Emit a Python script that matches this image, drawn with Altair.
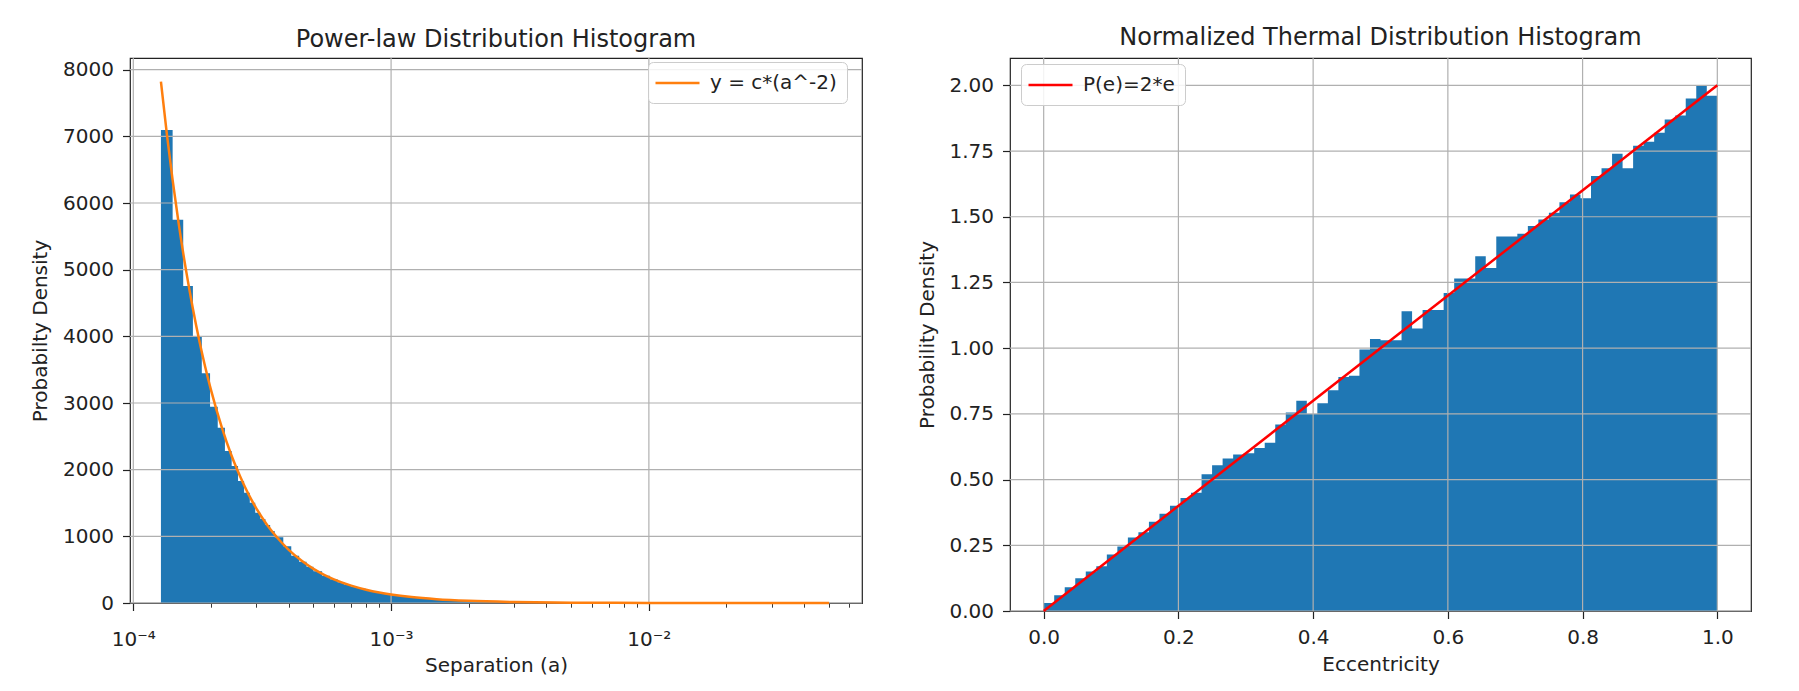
import altair as alt
import numpy as np
import pandas as pd

# ---------------- Left panel: power-law histogram ----------------
pl_edges = [1.280e-4, 1.421e-4, 1.562e-4, 1.703e-4, 1.844e-4, 1.985e-4, 2.126e-4, 2.267e-4,
            2.408e-4, 2.549e-4, 2.690e-4, 2.831e-4, 2.972e-4, 3.113e-4, 3.254e-4, 3.395e-4,
            3.536e-4, 3.818e-4, 4.1e-4, 4.4e-4, 4.7e-4, 5.0e-4, 5.4e-4, 5.8e-4, 6.2e-4, 6.6e-4,
            7.0e-4, 7.5e-4, 8.0e-4, 8.5e-4, 9.0e-4, 9.5e-4, 1.0e-3, 1.1e-3, 1.2e-3, 1.3e-3,
            1.4e-3, 1.5e-3, 1.7e-3, 1.9e-3, 2.1e-3, 2.4e-3, 2.7e-3, 3.0e-3, 3.5e-3, 4.0e-3,
            5.0e-3, 6.0e-3, 8.0e-3, 1.0e-2, 1.5e-2, 2.0e-2, 3.0e-2, 5.0e-2]
pl_heights = [7095, 5750, 4755, 4005, 3445, 2945, 2630, 2280,
              2055, 1830, 1655, 1505, 1355, 1260, 1170, 1080,
              985, 850, 710, 620, 545, 475, 410, 355, 310, 270,
              240, 212, 185, 166, 150, 134, 115, 96, 82, 70,
              61, 50, 40, 32, 25, 19.5, 15.8, 12.2, 9.1, 6.4,
              4.3, 2.7, 1.6, 0.85, 0.43, 0.21, 0.09]

pl_curve_a = [1.28e-4, 1.35e-4, 1.42e-4, 1.5e-4, 1.6e-4, 1.7e-4, 1.8e-4, 1.9e-4, 2.0e-4,
              2.2e-4, 2.4e-4, 2.6e-4, 2.8e-4, 3.0e-4, 3.3e-4, 3.6e-4, 4.0e-4, 4.5e-4,
              5.0e-4, 5.5e-4, 6.0e-4, 7.0e-4, 8.0e-4, 9.0e-4, 1.0e-3, 1.2e-3, 1.5e-3,
              2.0e-3, 3.0e-3, 5.0e-3, 1.0e-2, 2.0e-2, 5.0e-2]
pl_curve_y = [7820, 7030, 6350, 5690, 5000, 4430, 3950, 3545, 3200,
              2645, 2220, 1895, 1630, 1420, 1175, 990, 800, 632,
              512, 423, 355, 261, 200, 158, 128, 89, 57,
              32, 14, 5, 1.3, 0.3, 0.05]

pl_x_major = [1e-4, 1e-3, 1e-2]
pl_x_labels = ["10\u207b\u2074", "10\u207b\u00b3", "10\u207b\u00b2"]
pl_x_minor = [2e-4, 3e-4, 4e-4, 5e-4, 6e-4, 7e-4, 8e-4, 9e-4,
              2e-3, 3e-3, 4e-3, 5e-3, 6e-3, 7e-3, 8e-3, 9e-3,
              2e-2, 3e-2, 4e-2, 5e-2, 6e-2]
pl_y_ticks = [0, 1000, 2000, 3000, 4000, 5000, 6000, 7000, 8000]
pl_x_domain = [9.71e-5, 0.0671]
pl_y_domain = [0, 8175]

# ---------------- Right panel: thermal eccentricity histogram ----------------
th_heights = [0.03, 0.06, 0.09, 0.125, 0.15, 0.17, 0.215, 0.245, 0.28, 0.30,
              0.34, 0.37, 0.40, 0.43, 0.45, 0.52, 0.555, 0.58, 0.595, 0.60,
              0.62, 0.64, 0.71, 0.755, 0.80, 0.75, 0.79, 0.84, 0.89, 0.895,
              0.995, 1.035, 1.03, 1.03, 1.14, 1.075, 1.145, 1.145, 1.21, 1.265,
              1.265, 1.35, 1.305, 1.425, 1.425, 1.435, 1.465, 1.49, 1.515, 1.555,
              1.585, 1.57, 1.655, 1.685, 1.74, 1.685, 1.77, 1.785, 1.82, 1.87,
              1.885, 1.95, 2.00, 1.96]
th_range = [0.0, 1.0]
th_line_e = [0.0, 1.0]
th_line_p = [0.0, 2.0]
th_x_ticks = [0.0, 0.2, 0.4, 0.6, 0.8, 1.0]
th_y_ticks = [0.0, 0.25, 0.5, 0.75, 1.0, 1.25, 1.5, 1.75, 2.0]
th_x_domain = [-0.05, 1.05]
th_y_domain = [0, 2.104]

BLUE = "#1f77b4"
ORANGE = "#ff7f0e"
RED = "#ff0000"
GRID = "#b0b0b0"
INK = "#222222"
FONT = "DejaVu Sans"


def step_frame(edges, heights):
    xs = list(edges)
    ys = list(heights) + [heights[-1]]
    return pd.DataFrame({"x": xs, "y": ys})


def legend(x, y):
    # a 44px-long line sample in a 20px-high entry
    return alt.Legend(title=None, orient="none", legendX=x, legendY=y,
                      symbolType="M-2.2,0L2.2,0", symbolSize=400, symbolStrokeWidth=2.4,
                      symbolOffset=8.5, labelOffset=21,
                      labelFontSize=20, labelFont=FONT, labelColor=INK,
                      padding=9.5, fillColor="rgba(255,255,255,0.85)", strokeColor="#cccccc",
                      cornerRadius=5)


# ---------- left ----------
assert len(pl_edges) == len(pl_heights) + 1
pl_hist = step_frame(pl_edges, pl_heights)
xs_l = alt.Scale(type="log", domain=pl_x_domain, nice=False)
ys_l = alt.Scale(domain=pl_y_domain, nice=False, zero=True)

major_test = " || ".join(f"datum.value == {v!r}" for v in pl_x_major)
label_expr = "".join(f"datum.value == {v!r} ? '{l}' : " for v, l in zip(pl_x_major, pl_x_labels)) + "''"

ax_lx = alt.Axis(
    values=pl_x_major + pl_x_minor, labelExpr=label_expr, title="Separation (a)",
    tickSize={"condition": {"test": major_test, "value": 7.5}, "value": 4.2},
    tickWidth={"condition": {"test": major_test, "value": 1.2}, "value": 0.9},
    labelPadding=19, titlePadding=6, labelOverlap=False, labelFlush=False)
ax_ly = alt.Axis(values=pl_y_ticks, format="d", title="Probabilty Density",
                 labelPadding=9, titlePadding=12)

left_area = alt.Chart(pl_hist).mark_area(color=BLUE, interpolate="step-after", opacity=1).encode(
    x=alt.X("x:Q", scale=xs_l, axis=ax_lx),
    y=alt.Y("y:Q", scale=ys_l, axis=ax_ly),
)
left_gy = alt.Chart(pd.DataFrame({"y": pl_y_ticks})).mark_rule(color=GRID, strokeWidth=1.2).encode(
    y=alt.Y("y:Q", scale=ys_l, axis=ax_ly))
left_gx = alt.Chart(pd.DataFrame({"x": pl_x_major})).mark_rule(color=GRID, strokeWidth=1.2).encode(
    x=alt.X("x:Q", scale=xs_l, axis=ax_lx))
left_line = alt.Chart(pd.DataFrame({"x": pl_curve_a, "y": pl_curve_y, "s": "y = c*(a^-2)"})).mark_line(
    strokeWidth=2.5, interpolate="monotone").encode(
    x=alt.X("x:Q", scale=xs_l, axis=ax_lx),
    y=alt.Y("y:Q", scale=ys_l, axis=ax_ly),
    color=alt.Color("s:N", scale=alt.Scale(domain=["y = c*(a^-2)"], range=[ORANGE]),
                    legend=legend(518, 4)),
)
left = alt.layer(left_area, left_gy, left_gx, left_line).properties(
    width=732, height=545,
    title=alt.TitleParams("Power-law Distribution Histogram", offset=5))

# ---------- right ----------
th_edges = np.linspace(th_range[0], th_range[1], len(th_heights) + 1)
th_hist = step_frame(th_edges, th_heights)
xs_r = alt.Scale(domain=th_x_domain, nice=False, zero=False)
ys_r = alt.Scale(domain=th_y_domain, nice=False, zero=True)

ax_rx = alt.Axis(values=th_x_ticks, format=".1f", title="Eccentricity",
                 labelPadding=9, titlePadding=7, labelFlush=False)
ax_ry = alt.Axis(values=th_y_ticks, format=".2f", title="Probability Density",
                 labelPadding=9, titlePadding=11)

right_area = alt.Chart(th_hist).mark_area(color=BLUE, interpolate="step-after", opacity=1).encode(
    x=alt.X("x:Q", scale=xs_r, axis=ax_rx),
    y=alt.Y("y:Q", scale=ys_r, axis=ax_ry),
)
right_gy = alt.Chart(pd.DataFrame({"y": th_y_ticks})).mark_rule(color=GRID, strokeWidth=1.2).encode(
    y=alt.Y("y:Q", scale=ys_r, axis=ax_ry))
right_gx = alt.Chart(pd.DataFrame({"x": th_x_ticks})).mark_rule(color=GRID, strokeWidth=1.2).encode(
    x=alt.X("x:Q", scale=xs_r, axis=ax_rx))
right_line = alt.Chart(pd.DataFrame({"x": th_line_e, "y": th_line_p, "s": "P(e)=2*e"})).mark_line(
    strokeWidth=2.5).encode(
    x=alt.X("x:Q", scale=xs_r, axis=ax_rx),
    y=alt.Y("y:Q", scale=ys_r, axis=ax_ry),
    color=alt.Color("s:N", scale=alt.Scale(domain=["P(e)=2*e"], range=[RED]),
                    legend=legend(11, 6)),
)
right = alt.layer(right_area, right_gy, right_gx, right_line).properties(
    width=741, height=553,
    title=alt.TitleParams("Normalized Thermal Distribution Histogram", offset=7))

chart = alt.hconcat(left, right, spacing=53).resolve_scale(color="independent").resolve_legend(
    color="independent").properties(
    padding={"left": 22, "top": 17, "right": 5, "bottom": 2},
    background="white",
).configure_view(stroke=INK, strokeWidth=1.2).configure_axis(
    labelFont=FONT, labelFontSize=20, labelColor=INK,
    titleFont=FONT, titleFontSize=20, titleFontWeight="normal", titleColor=INK,
    tickColor=INK, tickWidth=1.2, tickSize=7.5, domain=False, grid=False,
).configure_title(
    font=FONT, fontSize=24, fontWeight="normal", color=INK, anchor="middle",
    frame="group", baseline="alphabetic",
)

chart.save("out.html", embed_options={"renderer": "svg", "actions": False})
